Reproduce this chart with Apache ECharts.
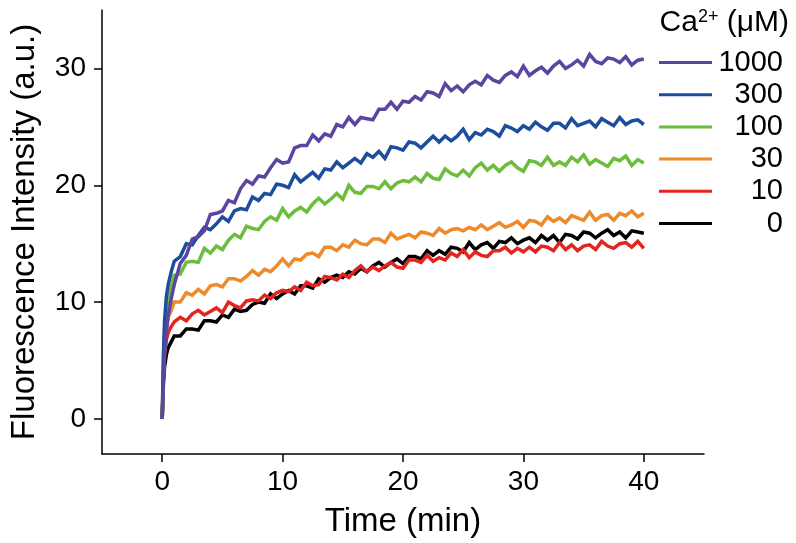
<!DOCTYPE html>
<html>
<head>
<meta charset="utf-8">
<script src="https://cdn.jsdelivr.net/npm/echarts@6/dist/echarts.min.js"></script>
<style>
html,body{margin:0;padding:0;background:#fff;}
#chart{width:796px;height:543px;}
</style>
</head>
<body>
<div id="chart"></div>
<script>
// Time points (min)
var times = [0, 0.1, 0.2, 0.35, 0.5, 0.75, 1, 1.5, 2, 2.5, 3, 3.5, 4, 4.5, 5, 5.5, 6, 6.5, 7, 7.5, 8, 8.5, 9, 9.5, 10, 10.5, 11, 11.5, 12, 12.5, 13, 13.5, 14, 14.5, 15, 15.5, 16, 16.5, 17, 17.5, 18, 18.5, 19, 19.5, 20, 20.5, 21, 21.5, 22, 22.5, 23, 23.5, 24, 24.5, 25, 25.5, 26, 26.5, 27, 27.5, 28, 28.5, 29, 29.5, 30, 30.5, 31, 31.5, 32, 32.5, 33, 33.5, 34, 34.5, 35, 35.5, 36, 36.5, 37, 37.5, 38, 38.5, 39, 39.5, 40];

var seriesNames = ['1000', '300', '100', '30', '10', '0'];

var ca1000 = [0, 3.5, 5.5, 7.5, 8.8, 10.3, 11.5, 13.3, 14.0, 15.4, 15.6, 16.1, 17.5, 17.6, 17.8, 18.7, 18.5, 19.7, 20.4, 20.1, 20.8, 20.7, 21.5, 22.2, 21.9, 22.0, 23.2, 23.4, 23.4, 24.3, 23.8, 24.4, 24.2, 25.2, 25.0, 25.8, 25.2, 25.8, 25.7, 25.6, 26.5, 26.5, 27.1, 26.5, 27.2, 27.1, 27.6, 27.3, 28.0, 27.9, 27.6, 28.7, 28.1, 28.5, 28.0, 28.6, 28.9, 28.6, 29.4, 29.0, 28.8, 29.4, 29.7, 29.3, 30.2, 29.4, 29.8, 30.1, 29.6, 30.2, 30.6, 30.0, 30.3, 30.7, 30.2, 31.2, 30.6, 30.4, 30.9, 30.8, 30.5, 31.0, 30.3, 30.7, 30.8];
var ca300 = [0, 5.5, 8.5, 10.5, 11.5, 12.6, 13.5, 13.9, 15.0, 14.9, 15.7, 16.4, 16.2, 16.7, 17.3, 16.9, 17.8, 18.0, 17.9, 19.0, 18.7, 19.3, 19.2, 20.1, 20.0, 19.8, 20.9, 20.3, 20.7, 21.1, 20.6, 21.4, 21.3, 22.0, 21.5, 21.9, 22.3, 21.9, 22.7, 22.4, 22.9, 22.3, 23.3, 23.2, 23.0, 23.7, 23.6, 23.2, 23.7, 24.2, 23.7, 24.2, 23.8, 24.2, 24.8, 23.9, 24.5, 24.3, 24.8, 24.6, 24.2, 25.1, 24.9, 24.6, 25.1, 24.8, 25.4, 25.0, 24.7, 25.3, 25.3, 24.9, 25.7, 25.1, 25.3, 25.5, 25.0, 25.7, 25.4, 25.1, 25.8, 25.2, 25.5, 25.6, 25.2];
var ca100 = [0, 4.5, 7.5, 9.3, 10.3, 11.3, 12.3, 12.4, 13.4, 13.5, 13.4, 14.6, 14.2, 14.8, 14.5, 15.3, 15.8, 15.5, 16.5, 16.3, 16.2, 16.9, 17.3, 17.0, 18.0, 17.3, 17.8, 18.1, 17.7, 18.4, 18.9, 18.4, 18.8, 19.3, 18.8, 20.0, 19.4, 19.3, 19.9, 19.9, 19.7, 20.3, 19.7, 20.2, 20.4, 20.3, 20.7, 20.3, 21.0, 20.6, 20.5, 21.4, 21.0, 20.8, 21.3, 20.8, 21.5, 21.9, 21.3, 21.7, 21.2, 21.7, 22.0, 21.5, 21.2, 22.1, 22.0, 21.7, 22.4, 21.7, 22.0, 21.7, 22.4, 22.0, 22.6, 21.8, 22.2, 21.9, 21.6, 22.3, 22.1, 22.5, 21.7, 22.2, 21.9];
var ca30 = [0, 4.0, 6.3, 7.8, 8.7, 9.3, 10.0, 10.0, 10.8, 10.6, 11.1, 10.7, 11.4, 11.5, 11.3, 12.0, 12.0, 11.8, 12.2, 12.7, 12.3, 12.8, 12.6, 13.1, 13.7, 13.1, 13.7, 13.6, 14.1, 14.2, 13.9, 14.7, 14.7, 14.4, 14.9, 14.7, 15.3, 15.0, 14.9, 15.4, 15.4, 15.1, 15.9, 15.4, 15.6, 15.8, 15.5, 16.0, 15.9, 15.7, 16.3, 15.9, 16.2, 16.3, 16.1, 16.4, 16.2, 16.6, 16.2, 16.5, 16.8, 16.4, 16.6, 16.9, 16.4, 17.0, 16.9, 16.6, 17.3, 16.9, 17.2, 16.8, 17.4, 17.2, 17.0, 17.7, 17.0, 17.4, 17.5, 17.0, 17.6, 17.4, 17.8, 17.3, 17.6];
var ca10 = [0, 3.5, 5.5, 6.8, 7.4, 7.9, 8.3, 8.7, 8.4, 9.0, 9.3, 8.9, 9.2, 9.5, 9.1, 10.0, 9.7, 9.5, 10.1, 10.2, 10.1, 10.6, 10.3, 10.8, 11.0, 10.9, 11.3, 11.0, 11.7, 11.4, 11.5, 12.2, 12.1, 11.9, 12.4, 12.1, 12.7, 13.1, 12.6, 13.0, 12.7, 13.1, 13.4, 13.0, 12.9, 13.6, 13.6, 13.4, 14.0, 13.5, 13.8, 13.6, 14.2, 13.9, 14.5, 13.8, 14.3, 14.0, 13.9, 14.4, 14.4, 14.7, 14.2, 14.6, 14.3, 14.7, 14.3, 14.8, 14.7, 14.4, 15.1, 14.5, 14.9, 14.4, 14.8, 14.9, 14.5, 15.2, 14.8, 14.6, 15.0, 15.1, 14.7, 15.2, 14.6];
var ca0 = [0, 3.0, 4.5, 5.5, 6.1, 6.6, 7.1, 7.1, 7.7, 7.7, 7.6, 8.4, 8.4, 8.3, 8.9, 8.7, 9.4, 9.2, 9.3, 9.8, 10.0, 9.9, 10.7, 10.3, 10.7, 11.0, 10.7, 11.4, 11.4, 11.2, 12.0, 11.7, 12.1, 12.3, 12.1, 12.6, 12.4, 12.9, 12.6, 13.1, 13.4, 13.0, 13.4, 13.7, 13.3, 13.9, 13.9, 13.7, 14.4, 14.0, 14.4, 14.1, 14.7, 14.6, 14.3, 15.1, 14.5, 14.9, 15.1, 14.6, 15.2, 15.1, 15.5, 15.0, 15.3, 15.5, 15.1, 15.7, 15.3, 15.7, 15.1, 15.8, 15.7, 15.4, 16.0, 15.9, 15.5, 15.9, 16.2, 15.7, 16.0, 15.5, 16.1, 16.0, 15.9];

var xTicks = [0, 10, 20, 30, 40];
var yTicks = [0, 10, 20, 30];

var colors = ['#5b45a0', '#1c4e9d', '#6bbd3b', '#ef8a2b', '#e2261f', '#000000'];
var FONT = "'Liberation Sans', Arial, Helvetica, sans-serif";

function pairs(vals) {
  var out = [];
  for (var i = 0; i < times.length; i++) out.push([times[i], vals[i]]);
  return out;
}
var allVals = [ca1000, ca300, ca100, ca30, ca10, ca0];

var series = seriesNames.map(function (n, i) {
  return {
    name: n,
    type: 'line',
    data: pairs(allVals[i]),
    showSymbol: false,
    symbol: 'none',
    lineStyle: { color: colors[i], width: 3.5, join: 'miter' },
    itemStyle: { color: colors[i] },
    z: 10 - i,
    animation: false
  };
});

var chart = echarts.init(document.getElementById('chart'), null, { renderer: 'canvas' });
chart.setOption({
  animation: false,
  backgroundColor: '#ffffff',
  color: colors,
  grid: { left: 100, right: 92, top: 10, bottom: 89, containLabel: false },
  title: {
    text: '{n|Ca}{s|2+}{n| (μM)}',
    right: 2,
    top: 1,
    textStyle: {
      fontWeight: 'normal',
      rich: {
        n: { fontFamily: FONT, fontSize: 30, fontWeight: 'normal', color: '#000', lineHeight: 34 },
        s: { fontFamily: FONT, fontSize: 18, fontWeight: 'normal', color: '#000', padding: [0, 0, 12, 0], lineHeight: 34 }
      }
    }
  },
  legend: {
    orient: 'vertical',
    right: 8,
    top: 43,
    itemWidth: 53,
    itemHeight: 3,
    itemGap: 3.2,
    icon: 'rect',
    data: seriesNames,
    formatter: function (name) { return '{a|' + name + '}'; },
    textStyle: {
      rich: {
        a: { fontFamily: FONT, fontSize: 29, color: '#000', width: 66, align: 'right', lineHeight: 28 }
      }
    }
  },
  xAxis: {
    type: 'value',
    min: -5,
    max: 45,
    name: 'Time (min)',
    nameLocation: 'middle',
    nameGap: 51,
    nameTextStyle: { fontFamily: FONT, fontSize: 33, color: '#000' },
    axisLine: { show: true, onZero: false, lineStyle: { color: '#000', width: 1.5 } },
    axisTick: { show: true, length: 8, lineStyle: { color: '#000', width: 1.5 }, customValues: xTicks },
    axisLabel: { fontFamily: FONT, fontSize: 28, color: '#000', margin: 14, customValues: xTicks },
    splitLine: { show: false }
  },
  yAxis: {
    type: 'value',
    min: -3,
    max: 35,
    name: 'Fluorescence Intensity (a.u.)',
    nameLocation: 'middle',
    nameGap: 61,
    nameTextStyle: { fontFamily: FONT, fontSize: 33, color: '#000' },
    axisLine: { show: true, onZero: false, lineStyle: { color: '#000', width: 1.5 } },
    axisTick: { show: true, length: 8, lineStyle: { color: '#000', width: 1.5 }, customValues: yTicks },
    axisLabel: { fontFamily: FONT, fontSize: 28, color: '#000', margin: 16, customValues: yTicks },
    splitLine: { show: false }
  },
  series: series
});
</script>
</body>
</html>
